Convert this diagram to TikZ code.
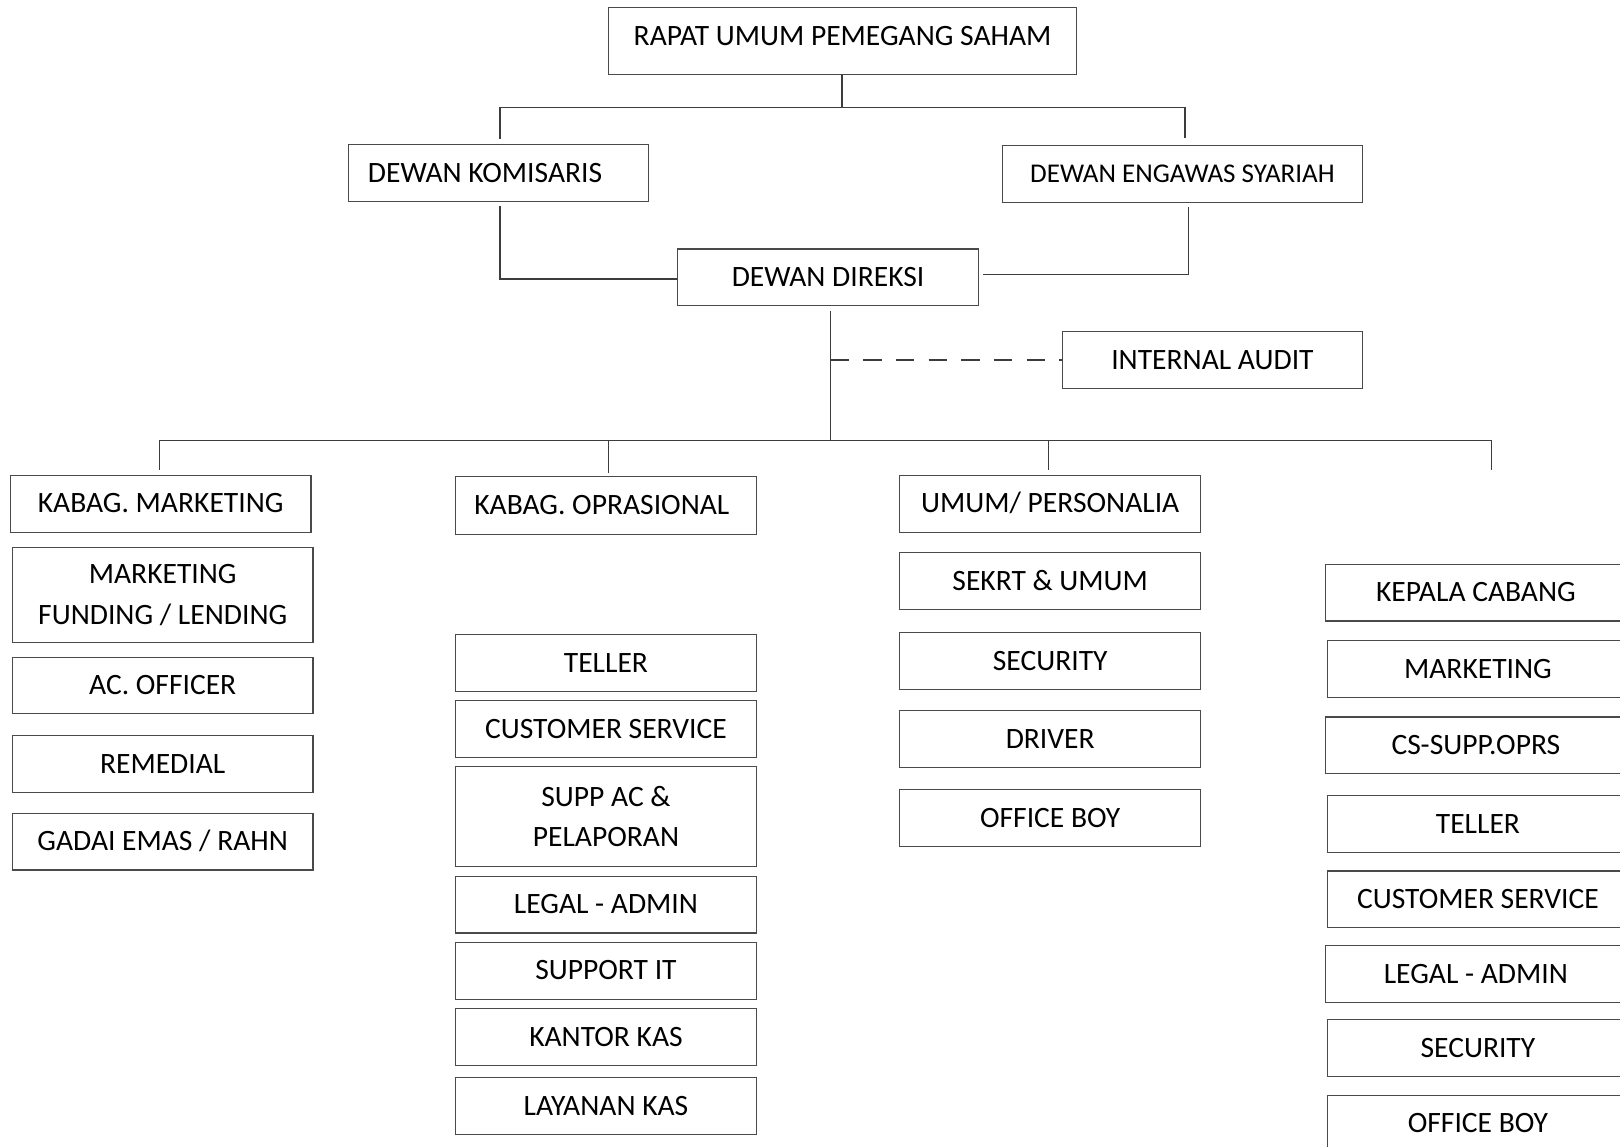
\documentclass[tikz,border=0pt]{standalone}
\usepackage{fontspec}
\setmainfont{Carlito}
\definecolor{linec}{HTML}{3C3C3C}
\definecolor{boxc}{HTML}{4A4A4A}
\begin{document}
\begin{tikzpicture}[x=1pt,y=-1pt,
  box/.style={draw=boxc, line width=1.1pt, minimum width=291pt, minimum height=55pt,
    inner sep=0pt, align=center, text=black, font=\fontsize{28.6}{39}\selectfont},
  one/.style={box, text height=18pt, text depth=0pt},
  conn/.style={draw=linec, line width=1.1pt},
  dashconn/.style={conn, dash pattern=on 17.7pt off 13.9pt}]
\useasboundingbox (0,0) rectangle (1568,1110);
\fill[white] (0,0) rectangle (1568,1110);

% top
\node[one, minimum width=453pt, minimum height=65pt] (rups) at (815.5,39.5) {\raisebox{4pt}{RAPAT UMUM PEMEGANG SAHAM}};
\node[one] (kom) at (482.5,167.5) {\hspace*{-26pt}DEWAN KOMISARIS};
\node[one, minimum width=349pt, font=\fontsize{26.2}{35}\selectfont, text height=16.5pt] (eng) at (1144.5,168.5) {DEWAN ENGAWAS SYARIAH};
\node[one] (dir) at (801.5,268.5) {DEWAN DIREKSI};
\node[one] (audit) at (1173.5,348.5) {INTERNAL AUDIT};

% marketing column
\node[one] (mkt) at (155.5,487.5) {KABAG. MARKETING};
\node[box, minimum height=92pt] (mfl) at (157.5,576) {MARKETING\\FUNDING / LENDING};
\node[one] (aco) at (157.5,663.5) {AC. OFFICER};
\node[one] (rem) at (157.5,739.5) {REMEDIAL};
\node[one] (gad) at (157.5,814.5) {GADAI EMAS / RAHN};

% operasional column
\node[one, minimum height=56pt] (ops) at (586.5,489) {\hspace*{-8pt}KABAG. OPRASIONAL};
\node[one] (tel) at (586.5,641.5) {TELLER};
\node[one] (cs) at (586.5,705.5) {CUSTOMER SERVICE};
\node[box, minimum height=97pt] (supp) at (586.5,790.5) {SUPP AC \&\\PELAPORAN};
\node[one] (leg) at (586.5,875.5) {LEGAL - ADMIN};
\node[one] (sit) at (586.5,939.5) {SUPPORT IT};
\node[one] (kk) at (586.5,1003.5) {KANTOR KAS};
\node[one] (lk) at (586.5,1070.5) {LAYANAN KAS};

% umum column
\node[one] (umum) at (1016.5,487.5) {UMUM/ PERSONALIA};
\node[one] (sek) at (1016.5,562.5) {SEKRT \& UMUM};
\node[one] (sec) at (1016.5,639.5) {SECURITY};
\node[one] (drv) at (1016.5,715.5) {DRIVER};
\node[one] (ob) at (1016.5,791.5) {OFFICE BOY};

% cabang column
\node[one] (kc) at (1428.5,573.5) {KEPALA CABANG};
\node[one] (cmkt) at (1430.5,647.5) {MARKETING};
\node[one] (ccs1) at (1428.5,721.5) {CS-SUPP.OPRS};
\node[one] (ctel) at (1430.5,797.5) {TELLER};
\node[one] (ccs) at (1430.5,870.5) {CUSTOMER SERVICE};
\node[one] (cleg) at (1428.5,942.5) {LEGAL - ADMIN};
\node[one] (csec) at (1430.5,1014.5) {SECURITY};
\node[one] (cob) at (1430.5,1087.5) {OFFICE BOY};

% connectors
\coordinate (tl) at (484,104);
\coordinate (tc) at (815,104);
\coordinate (tr) at (1147,104);
\coordinate (xe) at (1150,0);
\coordinate (xd) at (804,0);
\coordinate (hl) at (154,426);
\coordinate (hr) at (1444,426);
\coordinate (xo) at (589,0);
\coordinate (xu) at (1015,0);
\coordinate (cbend) at (1444,455);

\draw[conn] (rups.south -| tc) -- (tc);
\draw[conn] (tl) -- (tr);
\draw[conn, shorten >=5pt] (tl) -- (tl |- kom.north);
\draw[conn, shorten >=7pt] (tr) -- (tr |- eng.north);
\draw[conn, shorten <=4pt] (kom.south -| tl) -- (tl |- 0,270) -- (dir.west |- 0,270);
\draw[conn, shorten <=4pt, shorten >=4pt] (eng.south -| xe) -- (xe |- 0,266) -- (dir.east |- 0,266);
\draw[conn, shorten <=4pt] (dir.south -| xd) -- (xd |- hl);
\draw[dashconn] (xd |- audit.west) -- (audit.west);
\draw[conn] (hl) -- (hr);
\draw[conn, shorten >=5pt] (hl) -- (hl |- mkt.north);
\draw[conn, shorten >=3pt] (xo |- hl) -- (xo |- ops.north);
\draw[conn, shorten >=5pt] (xu |- hl) -- (xu |- umum.north);
\draw[conn] (hr) -- (cbend);
\end{tikzpicture}
\end{document}
